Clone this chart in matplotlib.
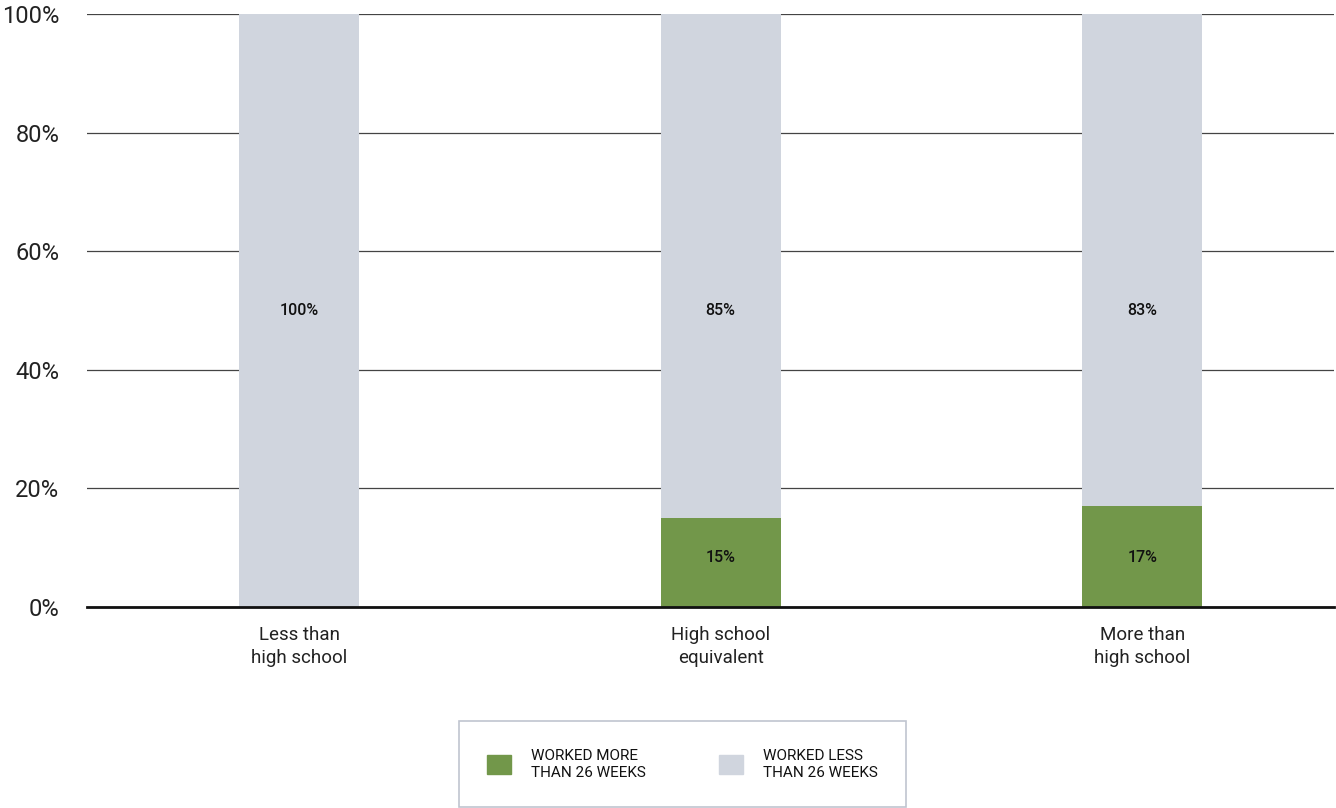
import numpy as np
import matplotlib.pyplot as plt
from matplotlib.patches import Patch

categories = ["Less than\nhigh school", "High school\nequivalent", "More than\nhigh school"]
worked_more = [0, 15, 17]
worked_less = [100, 85, 83]
yticks = [0, 20, 40, 60, 80, 100]

green = "#72974a"
grey = "#d0d5de"

plt.rcParams['font.family'] = ['Roboto', 'DejaVu Sans']

fig = plt.figure(figsize=(13.36, 8.08), dpi=100)
ax = fig.add_axes([87 / 1336, 1 - 607 / 808, 1247 / 1336, 593 / 808])

x = np.arange(len(categories))
w = 0.285
ax.bar(x, worked_more, w, color=green, zorder=2)
ax.bar(x, worked_less, w, bottom=worked_more, color=grey, zorder=2)

# value labels: green ones near the base, grey ones at mid-height
for i in x:
    if worked_more[i] > 0:
        ax.text(i, 8.3, f"{worked_more[i]}%", ha='center', va='center',
                fontsize=11.5, fontweight='medium', color='#111111', zorder=3)
    ax.text(i, 50, f"{worked_less[i]}%", ha='center', va='center',
            fontsize=11.5, fontweight='medium', color='#111111', zorder=3)

ax.set_xlim(-0.503, 2.455)
ax.set_ylim(0, 100)
ax.set_yticks(yticks)
ax.set_yticklabels([f"{v}%" for v in yticks], fontsize=17, color='#222222')
ax.set_xticks(x)
ax.set_xticklabels(categories, fontsize=13.5, color='#222222', linespacing=1.35)
ax.tick_params(axis='both', length=0)
ax.tick_params(axis='y', pad=20)
ax.tick_params(axis='x', pad=14)

ax.grid(axis='y', color='#444444', linewidth=0.9, zorder=1)
for s in ['top', 'right', 'left']:
    ax.spines[s].set_visible(False)
ax.spines['bottom'].set_linewidth(2)
ax.spines['bottom'].set_color('#111111')
ax.spines['bottom'].set_zorder(4)

handles = [Patch(color=green, label="WORKED MORE\nTHAN 26 WEEKS"),
           Patch(color=grey, label="WORKED LESS\nTHAN 26 WEEKS")]
leg = fig.legend(handles=handles, loc='upper left', ncol=2,
                 bbox_to_anchor=(459 / 1336, 1 - 721 / 808), frameon=True,
                 fontsize=11, handlelength=1.6, handleheight=1.6,
                 handletextpad=1.3, columnspacing=4.8, borderpad=1.8,
                 fancybox=False, borderaxespad=0)
leg.get_frame().set_edgecolor('#b0b6c4')
leg.get_frame().set_linewidth(1.2)
for t in leg.get_texts():
    t.set_linespacing(1.3)
    t.set_color('#111111')

fig.savefig("out.png", dpi=100)
